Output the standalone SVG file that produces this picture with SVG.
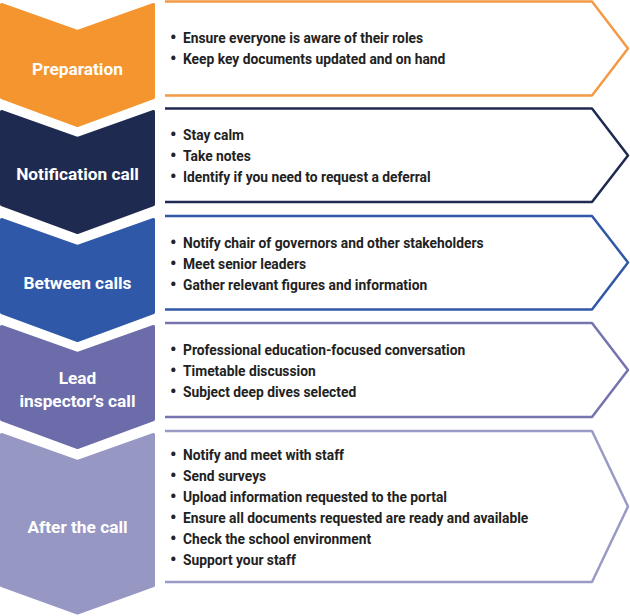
<svg xmlns="http://www.w3.org/2000/svg" width="630" height="616" viewBox="0 0 630 616">
<style>
.chev{stroke-width:3;stroke-linejoin:round}
.box{fill:#fff;stroke-width:2.5;stroke-linejoin:round}
.lbl{font-family:Roboto,"Liberation Sans",sans-serif;font-weight:700;font-size:17.3px;fill:#fff;text-anchor:middle}
.item{font-family:Roboto,"Liberation Sans",sans-serif;font-weight:700;font-size:13.8px;fill:#222}
.b{font-size:18px}
.c1{fill:#F5952F;stroke:#F5952F}
.c2{fill:#1F2A50;stroke:#1F2A50}
.c3{fill:#2F58A8;stroke:#2F58A8}
.c4{fill:#6D6CAA;stroke:#6D6CAA}
.c5{fill:#9797C4;stroke:#9797C4}
.s1{stroke:#F29A45}
.s2{stroke:#1F2A50}
.s3{stroke:#3158A6}
.s4{stroke:#7574AE}
.s5{stroke:#9A9AC6}
</style>
<rect width="630" height="616" fill="#fff"/>
<g id="step-preparation">
<path class="chev c1" d="M1.5,4.5 L77.5,31.5 L153.5,4.5 V97.5 L77.5,125.5 L1.5,97.5 Z"/>
<text class="lbl" x="77.5" y="75">Preparation</text>
</g>
<g id="step-notification">
<path class="chev c2" d="M1.5,111.5 L77.5,138.5 L153.5,111.5 V204.5 L77.5,232.5 L1.5,204.5 Z"/>
<text class="lbl" x="77.5" y="180">Notification call</text>
</g>
<g id="step-between">
<path class="chev c3" d="M1.5,219.5 L77.5,246.5 L153.5,219.5 V312.5 L77.5,340.5 L1.5,312.5 Z"/>
<text class="lbl" x="77.5" y="289">Between calls</text>
</g>
<g id="step-lead">
<path class="chev c4" d="M1.5,326.5 L77.5,353.5 L153.5,326.5 V419.5 L77.5,447.5 L1.5,419.5 Z"/>
<text class="lbl" x="77.5" y="384">Lead</text>
<text class="lbl" x="77.5" y="407">inspector’s call</text>
</g>
<g id="step-after">
<path class="chev c5" d="M1.5,434.5 L77.5,461.5 L153.5,434.5 V585.5 L77.5,613 L1.5,585.5 Z"/>
<text class="lbl" x="77.5" y="533">After the call</text>
</g>

<g id="box-preparation">
<path class="box s1" d="M165,1.5 H592 L628,48.5 L592,95.5 H165"/>
<text class="item"><tspan class="b" x="170" y="43.5">•</tspan><tspan x="183" y="42.5">Ensure everyone is aware of their roles</tspan></text>
<text class="item"><tspan class="b" x="170" y="64.5">•</tspan><tspan x="183" y="63.5">Keep key documents updated and on hand</tspan></text>
</g>
<g id="box-notification">
<path class="box s2" d="M165,108.5 H592 L628,155.5 L592,202 H165"/>
<text class="item"><tspan class="b" x="170" y="140.5">•</tspan><tspan x="183" y="139.5">Stay calm</tspan></text>
<text class="item"><tspan class="b" x="170" y="161.5">•</tspan><tspan x="183" y="160.5">Take notes</tspan></text>
<text class="item"><tspan class="b" x="170" y="182.5">•</tspan><tspan x="183" y="181.5">Identify if you need to request a deferral</tspan></text>
</g>
<g id="box-between">
<path class="box s3" d="M165,216 H592 L628,262.5 L592,309.5 H165"/>
<text class="item"><tspan class="b" x="170" y="248.5">•</tspan><tspan x="183" y="247.5">Notify chair of governors and other stakeholders</tspan></text>
<text class="item"><tspan class="b" x="170" y="269.5">•</tspan><tspan x="183" y="268.5">Meet senior leaders</tspan></text>
<text class="item"><tspan class="b" x="170" y="290.5">•</tspan><tspan x="183" y="289.5">Gather relevant figures and information</tspan></text>
</g>
<g id="box-lead">
<path class="box s4" d="M165,323 H592 L628,370 L592,417 H165"/>
<text class="item"><tspan class="b" x="170" y="355.5">•</tspan><tspan x="183" y="354.5">Professional education-focused conversation</tspan></text>
<text class="item"><tspan class="b" x="170" y="376.5">•</tspan><tspan x="183" y="375.5">Timetable discussion</tspan></text>
<text class="item"><tspan class="b" x="170" y="397.5">•</tspan><tspan x="183" y="396.5">Subject deep dives selected</tspan></text>
</g>
<g id="box-after">
<path class="box s5" d="M165,431 H592 L628,506.5 L592,582 H165"/>
<text class="item"><tspan class="b" x="170" y="460.5">•</tspan><tspan x="183" y="459.5">Notify and meet with staff</tspan></text>
<text class="item"><tspan class="b" x="170" y="481.5">•</tspan><tspan x="183" y="480.5">Send surveys</tspan></text>
<text class="item"><tspan class="b" x="170" y="502.5">•</tspan><tspan x="183" y="501.5">Upload information requested to the portal</tspan></text>
<text class="item"><tspan class="b" x="170" y="523.5">•</tspan><tspan x="183" y="522.5">Ensure all documents requested are ready and available</tspan></text>
<text class="item"><tspan class="b" x="170" y="544.5">•</tspan><tspan x="183" y="543.5">Check the school environment</tspan></text>
<text class="item"><tspan class="b" x="170" y="565.5">•</tspan><tspan x="183" y="564.5">Support your staff</tspan></text>
</g>
<g id="connectors"></g>
</svg>
